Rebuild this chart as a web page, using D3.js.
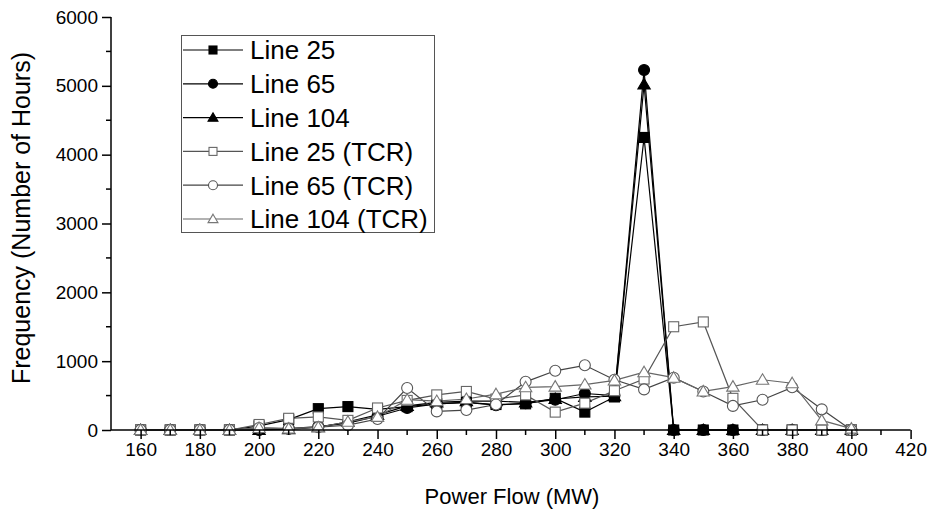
<!DOCTYPE html>
<html><head><meta charset="utf-8">
<script src="https://cdn.jsdelivr.net/npm/d3@7"></script>
<style>body{margin:0;background:#fff}svg{display:block}text{font-family:Arial,"Liberation Sans",sans-serif}</style>
</head><body>
<script>
const powerFlow = [160,170,180,190,200,210,220,230,240,250,260,270,280,290,300,310,320,330,340,350,360,370,380,390,400];
const line25    = [0,0,0,0,60,150,310,340,300,340,380,400,370,380,460,260,480,4250,0,0,0,0,0,0,0];
const line65    = [0,0,0,0,0,20,50,100,200,320,380,400,360,390,440,530,500,5230,0,0,0,0,0,0,0];
const line104   = [0,0,0,0,0,10,40,120,220,350,400,420,420,400,450,480,490,5020,0,0,0,0,0,0,0];
const line25TCR = [0,0,0,0,80,170,190,140,320,430,510,560,450,510,260,390,570,740,1500,1570,460,0,0,0,0];
const line65TCR = [0,0,0,0,30,20,40,70,160,610,270,290,370,700,860,940,730,590,760,560,350,440,620,300,0];
const line104TCR= [0,0,0,0,30,20,40,120,190,440,420,450,520,620,630,660,720,840,760,560,630,730,680,140,20];
const seriesNames = ["Line 25","Line 65","Line 104","Line 25 (TCR)","Line 65 (TCR)","Line 104 (TCR)"];
const xTicks = [160,180,200,220,240,260,280,300,320,340,360,380,400,420];
const yTicks = [0,1000,2000,3000,4000,5000,6000];

const W=933,H=517;
const svg=d3.select("body").append("svg").attr("width",W).attr("height",H);
const x=d3.scaleLinear().domain([150,420]).range([111,910.6]);
const y=d3.scaleLinear().domain([0,6000]).range([430,17]);

const series=[
 {name:seriesNames[0],vals:line25,shape:"square",fill:"#000",stroke:"#000",line:"#000"},
 {name:seriesNames[1],vals:line65,shape:"circle",fill:"#000",stroke:"#000",line:"#000"},
 {name:seriesNames[2],vals:line104,shape:"triangle",fill:"#000",stroke:"#000",line:"#000"},
 {name:seriesNames[3],vals:line25TCR,shape:"square",fill:"#fff",stroke:"#666",line:"#555"},
 {name:seriesNames[4],vals:line65TCR,shape:"circle",fill:"#fff",stroke:"#555",line:"#444"},
 {name:seriesNames[5],vals:line104TCR,shape:"triangle",fill:"#fff",stroke:"#777",line:"#666"}
];
function drawMarker(g,shape,cx,cy,s,fill,stroke){
  if(shape==="square") g.append("rect").attr("x",cx-s/2).attr("y",cy-s/2).attr("width",s).attr("height",s).attr("fill",fill).attr("stroke",stroke).attr("stroke-width",1.1);
  else if(shape==="circle") g.append("circle").attr("cx",cx).attr("cy",cy).attr("r",s/2+0.5).attr("fill",fill).attr("stroke",stroke).attr("stroke-width",1.1);
  else {const h=s*1.0;g.append("path").attr("d",`M${cx},${cy-h*0.6}L${cx+s*0.62},${cy+h*0.45}L${cx-s*0.62},${cy+h*0.45}Z`).attr("fill",fill).attr("stroke",stroke).attr("stroke-width",1.1);}
}
const line=d3.line().x(d=>x(d[0])).y(d=>y(d[1]));
series.forEach(s=>{
  const pts=powerFlow.map((p,i)=>[p,s.vals[i]]);
  svg.append("path").attr("d",line(pts)).attr("fill","none").attr("stroke",s.line).attr("stroke-width",1.2);
});
series.forEach(s=>{
  const g=svg.append("g");
  powerFlow.forEach((p,i)=>drawMarker(g,s.shape,x(p),y(s.vals[i]),10,s.fill,s.stroke));
});

// axes
const xAxis=svg.append("g").attr("transform","translate(0,430)");
xAxis.call(d3.axisBottom(x).tickValues(xTicks).tickSize(9).tickFormat(d3.format("d")));
xAxis.append("g").selectAll("line").data(d3.range(170,420,20)).join("line")
  .attr("x1",d=>x(d)).attr("x2",d=>x(d)).attr("y1",0).attr("y2",5).attr("stroke","#000").attr("stroke-width",1.5);
xAxis.select(".domain").attr("d",`M111,0H${x(420)}`).attr("stroke-width",1.5);
xAxis.selectAll(".tick line").attr("stroke-width",1.5);
xAxis.selectAll("text").attr("font-size",19).attr("fill","#000").attr("dy","0.88em").attr("y",9);

const yAxis=svg.append("g").attr("transform","translate(111,0)");
yAxis.call(d3.axisLeft(y).tickValues(yTicks).tickSize(9).tickFormat(d3.format("d")));
yAxis.append("g").selectAll("line").data(d3.range(500,6000,1000)).join("line")
  .attr("y1",d=>y(d)).attr("y2",d=>y(d)).attr("x1",0).attr("x2",-5).attr("stroke","#000").attr("stroke-width",1.5);
yAxis.select(".domain").attr("d","M0,17V430").attr("stroke-width",1.5);
yAxis.selectAll(".tick line").attr("stroke-width",1.5);
yAxis.selectAll("text").attr("font-size",19).attr("fill","#000").attr("x",-13);

svg.append("text").attr("x",512).attr("y",504).attr("text-anchor","middle").attr("font-size",22).text("Power Flow (MW)");
svg.append("text").attr("transform","translate(30,218) rotate(-90)").attr("text-anchor","middle").attr("font-size",25).text("Frequency (Number of Hours)");

// legend
const lg=svg.append("g");
lg.append("rect").attr("x",181.5).attr("y",35.5).attr("width",253).attr("height",197).attr("fill","#fff").attr("stroke","#555").attr("stroke-width",1);
series.forEach((s,i)=>{
  const cy=50+i*33.8;
  lg.append("line").attr("x1",183).attr("x2",243).attr("y1",cy).attr("y2",cy).attr("stroke",s.line).attr("stroke-width",1.2);
  drawMarker(lg,s.shape,213,cy,8,s.fill,s.stroke);
  lg.append("text").attr("x",250).attr("y",cy).attr("dy","0.36em").attr("font-size",26).text(s.name);
});
</script>
</body></html>
